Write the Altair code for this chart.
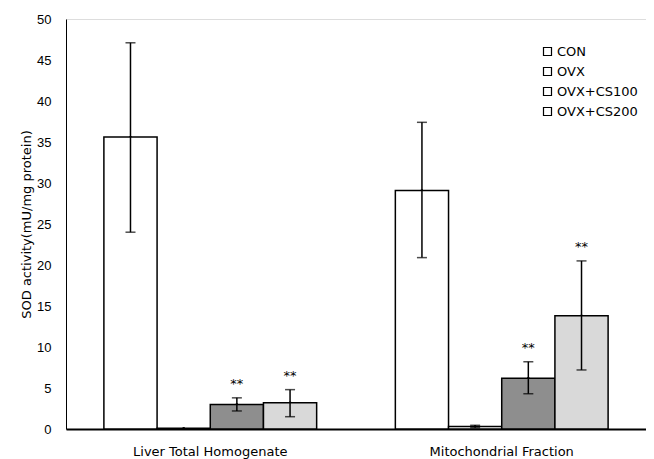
import altair as alt
import pandas as pd

groups = ["Liver Total Homogenate", "Mitochondrial Fraction"]
treatments = ["CON", "OVX", "OVX+CS100", "OVX+CS200"]
liver_mean = [35.6, 0.1, 3.0, 3.2]
liver_lo = [24.0, None, 2.2, 1.5]
liver_hi = [47.1, None, 3.8, 4.8]
mito_mean = [29.1, 0.3, 6.2, 13.8]
mito_lo = [20.9, 0.15, 4.3, 7.2]
mito_hi = [37.4, 0.45, 8.2, 20.5]
liver_star = ["", "", "**", "**"]
mito_star = ["", "", "**", "**"]
fill_colors = ["#ffffff", "#ffffff", "#8e8e8e", "#d9d9d9"]

rows = []
for g, means, los, his, stars in [
    (groups[0], liver_mean, liver_lo, liver_hi, liver_star),
    (groups[1], mito_mean, mito_lo, mito_hi, mito_star),
]:
    for t, m, lo, hi, s in zip(treatments, means, los, his, stars):
        rows.append({"group": g, "treatment": t, "series": t, "mean": m,
                     "lo": lo, "hi": hi, "star": s})
df = pd.DataFrame(rows)
err = df.dropna(subset=["lo"])
stars = df[df["star"] != ""]

FONT = "DejaVu Sans"
NUMFONT = "Liberation Sans"

x = alt.X("group:N", sort=groups,
          scale=alt.Scale(paddingInner=0.27, paddingOuter=0.13),
          axis=alt.Axis(title=None, labelAngle=0, labelFontSize=13, labelPadding=16,
                        ticks=False, domainWidth=2, domainColor="black",
                        labelColor="black", labelFont=FONT))
xo = alt.XOffset("treatment:N", sort=treatments,
                 scale=alt.Scale(paddingInner=0, paddingOuter=0))
yscale = alt.Scale(domain=[0, 50])

base = alt.Chart(df)

legend_layer = base.mark_square(size=1, stroke="black", strokeWidth=1.2, opacity=1).encode(
    x=x, xOffset=xo,
    y=alt.Y("mean:Q", scale=yscale),
    fill=alt.Fill("series:N", sort=treatments,
                  scale=alt.Scale(domain=treatments, range=["#ffffff"] * 4),
                  legend=alt.Legend(title=None, orient="none", legendX=475, legendY=26,
                                    padding=0, symbolType="square", symbolSize=64,
                                    symbolStrokeColor="black", symbolStrokeWidth=1.2,
                                    labelFontSize=13, labelFont=FONT, labelColor="black",
                                    rowPadding=6, labelOffset=3)),
)

bars = base.mark_bar(stroke="black", strokeWidth=1.5).encode(
    x=x, xOffset=xo,
    y=alt.Y("mean:Q", scale=yscale,
            axis=alt.Axis(title="SOD activity(mU/mg protein)", values=list(range(0, 51, 5)),
                          grid=False, ticks=False, labelPadding=15, labelFontSize=13,
                          titleFontSize=13, titleFontWeight="normal", titlePadding=3,
                          domainColor="black", labelColor="black", titleColor="black",
                          labelFont=NUMFONT, titleFont=FONT)),
    color=alt.Color("treatment:N", sort=treatments,
                    scale=alt.Scale(domain=treatments, range=fill_colors), legend=None),
)

rules = alt.Chart(err).mark_rule(color="black", strokeWidth=1.5).encode(
    x=x, xOffset=xo, y=alt.Y("lo:Q", scale=yscale), y2="hi:Q")
cap_lo = alt.Chart(err).mark_tick(color="black", thickness=1.5, size=10).encode(
    x=x, xOffset=xo, y=alt.Y("lo:Q", scale=yscale))
cap_hi = alt.Chart(err).mark_tick(color="black", thickness=1.5, size=10).encode(
    x=x, xOffset=xo, y=alt.Y("hi:Q", scale=yscale))
star_text = alt.Chart(stars).mark_text(baseline="bottom", dy=-7, fontSize=13, font=FONT,
                                       color="black").encode(
    x=x, xOffset=xo, y=alt.Y("hi:Q", scale=yscale), text="star:N")

chart = alt.layer(legend_layer, bars, rules, cap_lo, cap_hi, star_text).properties(
    width=580, height=410,
    padding={"left": 12, "top": 5, "right": 0, "bottom": 5},
).resolve_scale(color="independent", fill="independent").configure_view(
    stroke="black", strokeWidth=1).configure(background="white")

chart.save("out.html", embed_options={"renderer": "svg", "actions": False})
